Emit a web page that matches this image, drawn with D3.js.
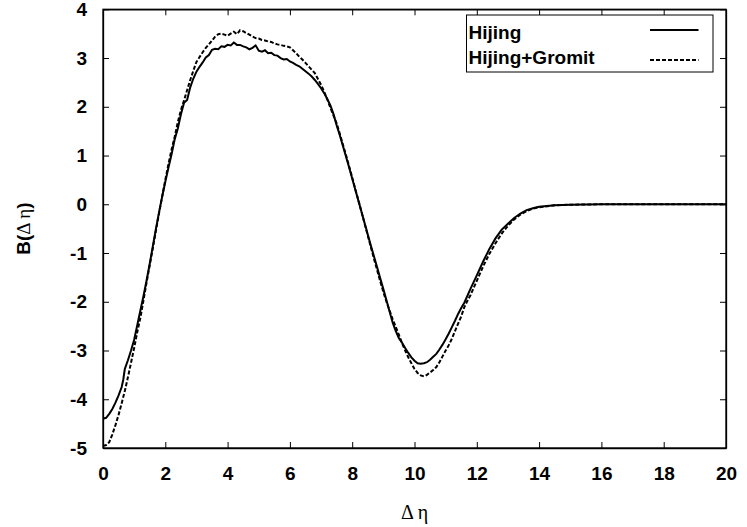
<!DOCTYPE html>
<html>
<head>
<meta charset="utf-8">
<script src="https://cdn.jsdelivr.net/npm/d3@7"></script>
<style>
  html, body { margin: 0; padding: 0; background: #fff; }
  svg { display: block; }
  .tick text { font-family: "Liberation Sans", Arial, sans-serif; font-weight: bold; font-size: 19px; fill: #000; }
</style>
</head>
<body>
<svg id="chart" width="747" height="527"></svg>
<script>
// Balance function B(Δη) for the two simulation chains
const hijingX = [0.0,0.1,0.2,0.3,0.4,0.5,0.6,0.65,0.7,0.8,0.9,1.0,1.1,1.2,1.3,1.4,1.5,1.6,1.7,1.8,1.9,
  2.0,2.1,2.2,2.3,2.4,2.5,2.6,2.7,2.8,2.9,3.0,3.1,3.2,3.3,3.4,3.5,3.6,3.7,3.8,3.9,
  4.0,4.1,4.2,4.3,4.4,4.5,4.6,4.7,4.8,4.9,5.0,5.1,5.2,5.3,5.4,5.5,5.6,5.7,5.8,5.9,
  6.0,6.1,6.2,6.3,6.4,6.5,6.6,6.7,6.8,6.9,7.0,7.1,7.2,7.3,7.4,7.5,7.6,7.7,7.8,7.9,
  8.0,8.1,8.2,8.3,8.4,8.5,8.6,8.7,8.8,8.9,9.0,9.1,9.2,9.3,9.4,9.5,9.6,9.7,9.8,9.9,
  10.0,10.1,10.2,10.3,10.4,10.5,10.6,10.7,10.8,10.9,11.0,11.1,11.2,11.3,11.4,11.5,11.6,
  11.8,12.0,12.2,12.4,12.6,12.8,13.0,13.2,13.4,13.6,13.8,14.0,14.5,15.0,16.0,18.0,20.0];
const hijingB = [-4.40,-4.38,-4.30,-4.20,-4.07,-3.92,-3.75,-3.60,-3.38,-3.20,-3.00,-2.78,-2.48,-2.18,-1.88,-1.56,-1.22,-0.86,-0.50,-0.16,0.16,
  0.46,0.75,1.02,1.33,1.55,1.84,2.08,2.14,2.40,2.58,2.72,2.82,2.91,3.01,3.06,3.17,3.19,3.18,3.24,3.23,
  3.27,3.26,3.32,3.27,3.27,3.24,3.22,3.18,3.21,3.26,3.15,3.13,3.16,3.10,3.11,3.06,3.05,3.00,2.97,2.98,
  2.93,2.90,2.86,2.83,2.78,2.73,2.68,2.62,2.55,2.47,2.38,2.28,2.16,2.03,1.85,1.62,1.42,1.20,0.98,0.76,
  0.53,0.30,0.07,-0.16,-0.39,-0.62,-0.85,-1.07,-1.29,-1.52,-1.74,-1.97,-2.20,-2.43,-2.60,-2.75,-2.84,-2.95,-3.05,-3.14,
  -3.21,-3.26,-3.27,-3.26,-3.24,-3.19,-3.13,-3.07,-2.98,-2.88,-2.77,-2.65,-2.52,-2.39,-2.25,-2.13,-2.02,
  -1.73,-1.46,-1.18,-0.92,-0.70,-0.52,-0.40,-0.28,-0.19,-0.12,-0.08,-0.05,-0.02,-0.01,0.0,0.0,0.0];

const gromitX = [0.0,0.1,0.2,0.3,0.4,0.5,0.6,0.7,0.8,0.9,1.0,1.1,1.2,1.3,1.4,1.5,1.6,1.7,1.8,1.9,
  2.0,2.1,2.2,2.3,2.4,2.5,2.6,2.7,2.8,2.9,3.0,3.1,3.2,3.3,3.4,3.5,3.6,3.7,3.8,3.9,
  4.0,4.1,4.2,4.3,4.4,4.5,4.6,4.7,4.8,4.9,5.0,5.1,5.2,5.3,5.4,5.5,5.6,5.7,5.8,5.9,
  6.0,6.1,6.2,6.3,6.4,6.5,6.6,6.7,6.8,6.9,7.0,7.1,7.2,7.3,7.4,7.5,7.6,7.7,7.8,7.9,
  8.0,8.1,8.2,8.3,8.4,8.5,8.6,8.7,8.8,8.9,9.0,9.1,9.2,9.3,9.4,9.5,9.6,9.7,9.8,9.9,
  10.0,10.1,10.2,10.3,10.4,10.5,10.6,10.7,10.8,10.9,11.0,11.1,11.2,11.3,11.4,11.5,11.6,11.7,
  11.8,12.0,12.2,12.4,12.6,12.8,13.0,13.2,13.4,13.6,13.8,14.0,14.5,15.0,16.0,18.0,20.0];
const gromitB = [-4.96,-4.94,-4.88,-4.72,-4.53,-4.32,-4.08,-3.83,-3.55,-3.25,-2.95,-2.62,-2.33,-1.97,-1.60,-1.25,-0.90,-0.54,-0.18,0.16,
  0.50,0.82,1.12,1.38,1.68,1.93,2.13,2.34,2.55,2.74,2.92,3.02,3.12,3.21,3.28,3.36,3.44,3.49,3.50,3.48,
  3.46,3.50,3.54,3.49,3.57,3.55,3.51,3.48,3.44,3.41,3.40,3.37,3.36,3.34,3.33,3.30,3.28,3.27,3.25,3.24,
  3.22,3.16,3.10,3.03,2.97,2.90,2.83,2.76,2.69,2.57,2.45,2.31,2.15,1.98,1.82,1.66,1.45,1.23,1.01,0.78,
  0.55,0.31,0.08,-0.16,-0.40,-0.64,-0.88,-1.12,-1.35,-1.58,-1.80,-2.00,-2.18,-2.36,-2.52,-2.68,-2.85,-3.00,-3.14,-3.26,
  -3.38,-3.46,-3.51,-3.53,-3.50,-3.45,-3.40,-3.34,-3.24,-3.12,-3.00,-2.89,-2.76,-2.60,-2.45,-2.30,-2.11,-1.98,
  -1.86,-1.57,-1.28,-1.02,-0.80,-0.60,-0.44,-0.31,-0.21,-0.14,-0.09,-0.06,-0.02,-0.01,0.0,0.0,0.0];

const seriesNames = ["Hijing", "Hijing+Gromit"];
const xTicks = [0,2,4,6,8,10,12,14,16,18,20];
const yTicks = [-5,-4,-3,-2,-1,0,1,2,3,4];

const svg = d3.select("#chart");
const plotL = 103, plotR = 726, plotT = 9.3, plotB = 448;

const x = d3.scaleLinear().domain([0, 20]).range([plotL, plotR]);
const y = d3.scaleLinear().domain([-5, 4]).range([plotB, plotT]);

const fmt = d => String(d);

// axes with inward ticks on all four sides
svg.append("g").attr("transform", `translate(0,${plotB})`)
  .call(d3.axisBottom(x).tickValues(xTicks).tickFormat(fmt).tickSizeInner(-6).tickSizeOuter(0).tickPadding(19));
svg.append("g").attr("transform", `translate(0,${plotT})`)
  .call(d3.axisTop(x).tickValues(xTicks).tickFormat("").tickSizeInner(-6).tickSizeOuter(0));
svg.append("g").attr("transform", `translate(${plotL},0)`)
  .call(d3.axisLeft(y).tickValues(yTicks).tickFormat(fmt).tickSizeInner(-6).tickSizeOuter(0).tickPadding(16));
svg.append("g").attr("transform", `translate(${plotR},0)`)
  .call(d3.axisRight(y).tickValues(yTicks).tickFormat("").tickSizeInner(-6).tickSizeOuter(0));

svg.selectAll(".domain").attr("stroke", "#000").attr("stroke-width", 1.3);
svg.selectAll(".tick line").attr("stroke", "#000").attr("stroke-width", 1);

// frame
svg.append("rect")
  .attr("x", plotL).attr("y", plotT)
  .attr("width", plotR - plotL).attr("height", plotB - plotT)
  .attr("fill", "none").attr("stroke", "#000").attr("stroke-width", 1.3);

// curves
const line = d3.line().x(d => x(d[0])).y(d => y(d[1]));
const hijing = d3.zip(hijingX, hijingB);
const gromit = d3.zip(gromitX, gromitB);

svg.append("path").datum(gromit)
  .attr("d", line).attr("fill", "none").attr("stroke", "#000")
  .attr("stroke-width", 2).attr("stroke-dasharray", "4,2");
svg.append("path").datum(hijing)
  .attr("d", line).attr("fill", "none").attr("stroke", "#000")
  .attr("stroke-width", 2);

// legend
const lg = svg.append("g");
lg.append("rect").attr("x", 466.5).attr("y", 15).attr("width", 246.5).attr("height", 57)
  .attr("fill", "#fff").attr("stroke", "#000").attr("stroke-width", 1);
const legendRows = [{name: seriesNames[0], dash: null, yb: 38.5, yl: 30},
                    {name: seriesNames[1], dash: "4,2", yb: 63.5, yl: 60}];
legendRows.forEach(r => {
  lg.append("text").attr("x", 468.5).attr("y", r.yb)
    .attr("font-family", "Liberation Sans, Arial, sans-serif").attr("font-weight", "bold")
    .attr("font-size", 19).text(r.name);
  lg.append("line").attr("x1", 650).attr("x2", 698.5).attr("y1", r.yl).attr("y2", r.yl)
    .attr("stroke", "#000").attr("stroke-width", 2)
    .attr("stroke-dasharray", r.dash);
});

// axis titles
svg.append("text").attr("x", (plotL + plotR) / 2).attr("y", 519)
  .attr("text-anchor", "middle")
  .attr("font-family", "Liberation Serif, Times New Roman, serif").attr("font-size", 20)
  .text("Δ η");

const yt = svg.append("text").attr("transform", `translate(30,${(plotT + plotB) / 2}) rotate(-90)`)
  .attr("text-anchor", "middle")
  .attr("font-family", "Liberation Sans, Arial, sans-serif").attr("font-weight", "bold")
  .attr("font-size", 19);
yt.append("tspan").text("B(");
yt.append("tspan").attr("font-family", "Liberation Serif, Times New Roman, serif").attr("font-weight", "normal").text("Δ η");
yt.append("tspan").text(")");
</script>
</body>
</html>
